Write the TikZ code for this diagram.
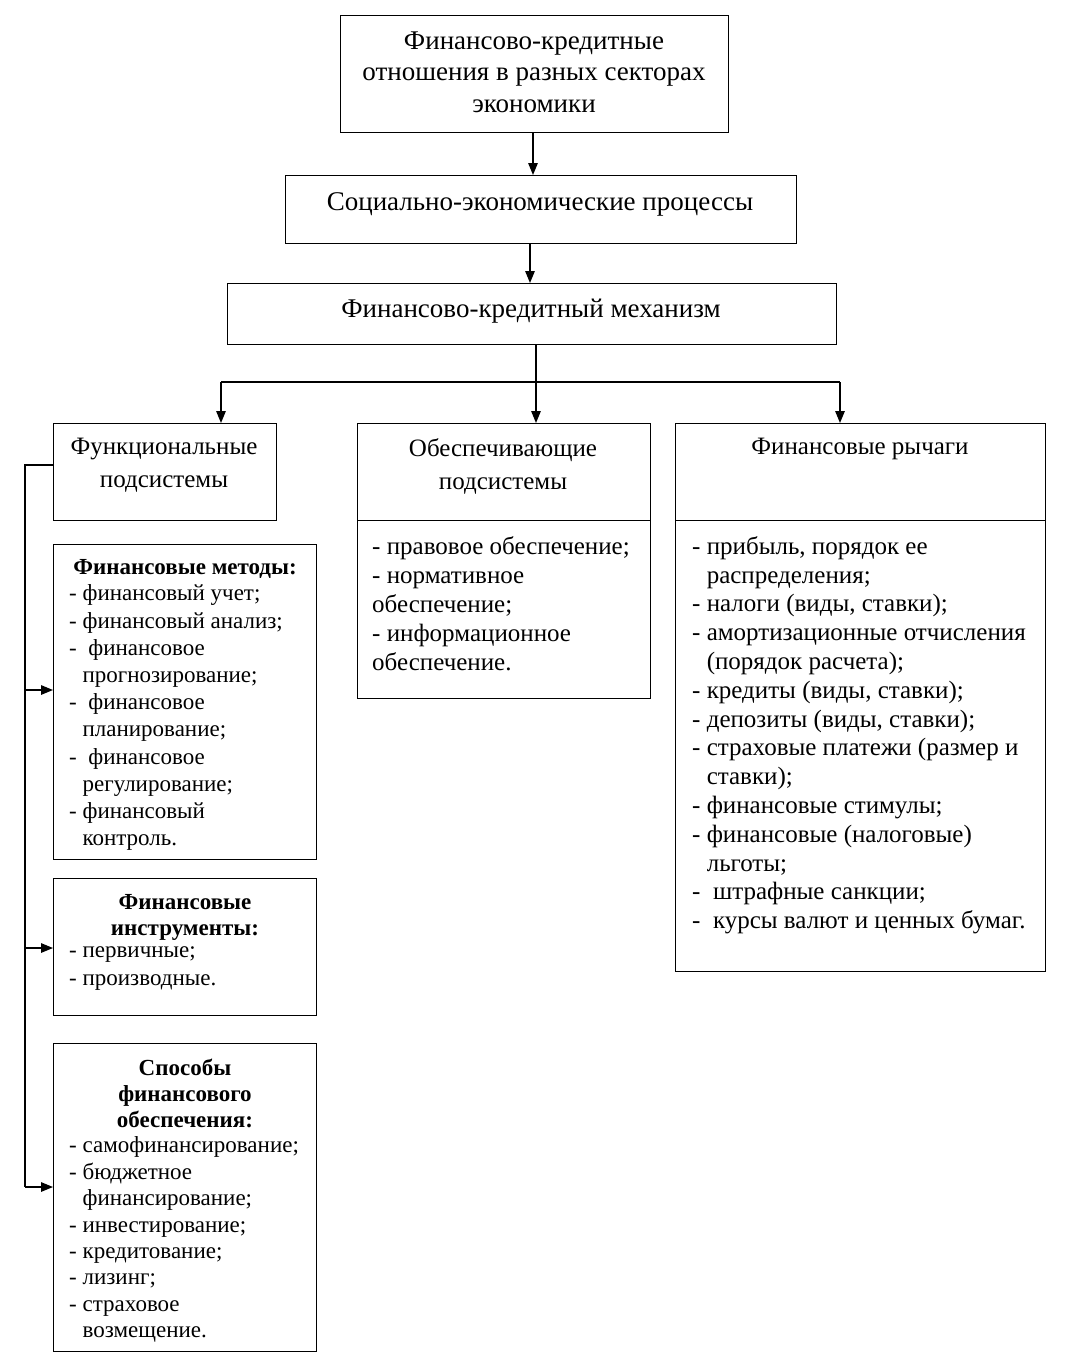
\documentclass[tikz,border=0pt]{standalone}
\usepackage{fontspec}
\setmainfont{Liberation Serif}
\usetikzlibrary{arrows.meta,positioning}
\newcommand{\indl}{\hphantom{-~}}

\begin{document}
\begin{tikzpicture}[x=1pt,y=-1pt,
  box/.style={draw,line width=1.4pt,anchor=north west,inner sep=0pt},
  txt/.style={inner sep=0pt,font=\fontsize{25}{29}\selectfont},
  bigtxt/.style={inner sep=0pt,font=\fontsize{27}{31.5}\selectfont},
  arr/.style={line width=1.4pt,-{Triangle[length=12pt,width=9.5pt]}}]

\useasboundingbox[fill=white] (0,0) rectangle (1069,1361);

% top chain
\node[box,minimum width=388,minimum height=117] (rel) at (340,15) {};
\node[bigtxt,anchor=north,align=center] (reltxt) at (534,31.6)
  {Финансово-кредитные\\отношения в разных секторах\\экономики};

\node[box,minimum width=511,minimum height=68] (soc) at (285,175) {};
\node[bigtxt,anchor=north] (soctxt) at (540,192.6) {Социально-экономические процессы};

\node[box,minimum width=609,minimum height=61] (mech) at (227,283) {};
\node[bigtxt,anchor=north] (mechtxt) at (531,298.6) {Финансово-кредитный механизм};

\draw[arr] (rel.south -| 533,0) -- (soc.north -| 533,0);
\draw[arr] (soc.south -| 530,0) -- (mech.north -| 530,0);

% three subsystems
\node[box,minimum width=223,minimum height=97] (func) at (53,423) {};
\node[txt,anchor=north,align=center,font=\fontsize{25}{33}\selectfont] (functxt) at (164,438.2)
  {Функциональные\\подсистемы};

\node[box,minimum width=293,minimum height=97] (supp) at (357,423) {};
\node[box,minimum width=293,minimum height=178] (supplist) at (357,520) {};
\node[txt,anchor=north,align=center,font=\fontsize{25}{33}\selectfont] (supptxt) at (503,438.2)
  {Обеспечивающие\\подсистемы};
\node[txt,anchor=north west,align=left] (suppitems) at (372,536.2)
  {- правовое обеспечение;\\- нормативное\\обеспечение;\\- информационное\\обеспечение.};

\node[box,minimum width=370,minimum height=97] (lev) at (675,423) {};
\node[box,minimum width=370,minimum height=451] (levlist) at (675,520) {};
\node[txt,anchor=north] (levtxt) at (860,438.2) {Финансовые рычаги};
\node[txt,anchor=north west,align=left,font=\fontsize{25}{28.8}\selectfont] (levitems) at (692,536.2)
  {- прибыль, порядок ее\\\indl распределения;\\- налоги (виды, ставки);\\
   - амортизационные отчисления\\\indl(порядок расчета);\\- кредиты (виды, ставки);\\
   - депозиты (виды, ставки);\\- страховые платежи (размер и\\\indl ставки);\\
   - финансовые стимулы;\\- финансовые (налоговые)\\\indl льготы;\\
   -~\ штрафные санкции;\\-~\ курсы валют и ценных бумаг.};

\coordinate (split) at (536,382);
\coordinate (busl) at (221,382);
\coordinate (busr) at (840,382);
\draw[line width=1.4pt] (mech.south -| split) -- (split);
\draw[line width=1.4pt] (busl) -- (busr);
\draw[arr] (busl) -- (busl |- func.north);
\draw[arr] (split) -- (split |- supp.north);
\draw[arr] (busr) -- (busr |- lev.north);

% left column
\node[box,minimum width=263,minimum height=315] (meth) at (53,544) {};
\node[txt,anchor=north,font=\fontsize{23}{27}\selectfont\bfseries] (methhead) at (185,558.8)
  {Финансовые методы:};
\node[txt,anchor=north west,align=left,font=\fontsize{23}{27.2}\selectfont] (methitems) at (69,584.8)
  {- финансовый учет;\\- финансовый анализ;\\-~\ финансовое\\\indl прогнозирование;\\
   -~\ финансовое\\\indl планирование;\\-~\ финансовое\\\indl регулирование;\\
   - финансовый\\\indl контроль.};

\node[box,minimum width=263,minimum height=137] (instr) at (53,878) {};
\node[txt,anchor=north,align=center,font=\fontsize{23}{26}\selectfont\bfseries] (instrhead) at (185,893.8)
  {Финансовые\\инструменты:};
\node[txt,anchor=north west,align=left,font=\fontsize{23}{28}\selectfont] (instritems) at (69,946.8)
  {- первичные;\\- производные.};

\node[box,minimum width=263,minimum height=308] (ways) at (53,1043) {};
\node[txt,anchor=north,align=center,font=\fontsize{23}{26}\selectfont\bfseries] (wayshead) at (185,1058.8)
  {Способы\\финансового\\обеспечения:};
\node[txt,anchor=north west,align=left,font=\fontsize{23}{26.4}\selectfont] (waysitems) at (69,1136.8)
  {- самофинансирование;\\- бюджетное\\\indl финансирование;\\- инвестирование;\\
   - кредитование;\\- лизинг;\\- страховое\\\indl возмещение.};

\coordinate (lbus) at (25,465);
\draw[line width=1.4pt] (func.west |- lbus) -- (lbus) -- (lbus |- 0,1187);
\draw[arr] (lbus |- 0,690) -- (meth.west |- 0,690);
\draw[arr] (lbus |- 0,948) -- (instr.west |- 0,948);
\draw[arr] (lbus |- 0,1187) -- (ways.west |- 0,1187);

\end{tikzpicture}
\end{document}
